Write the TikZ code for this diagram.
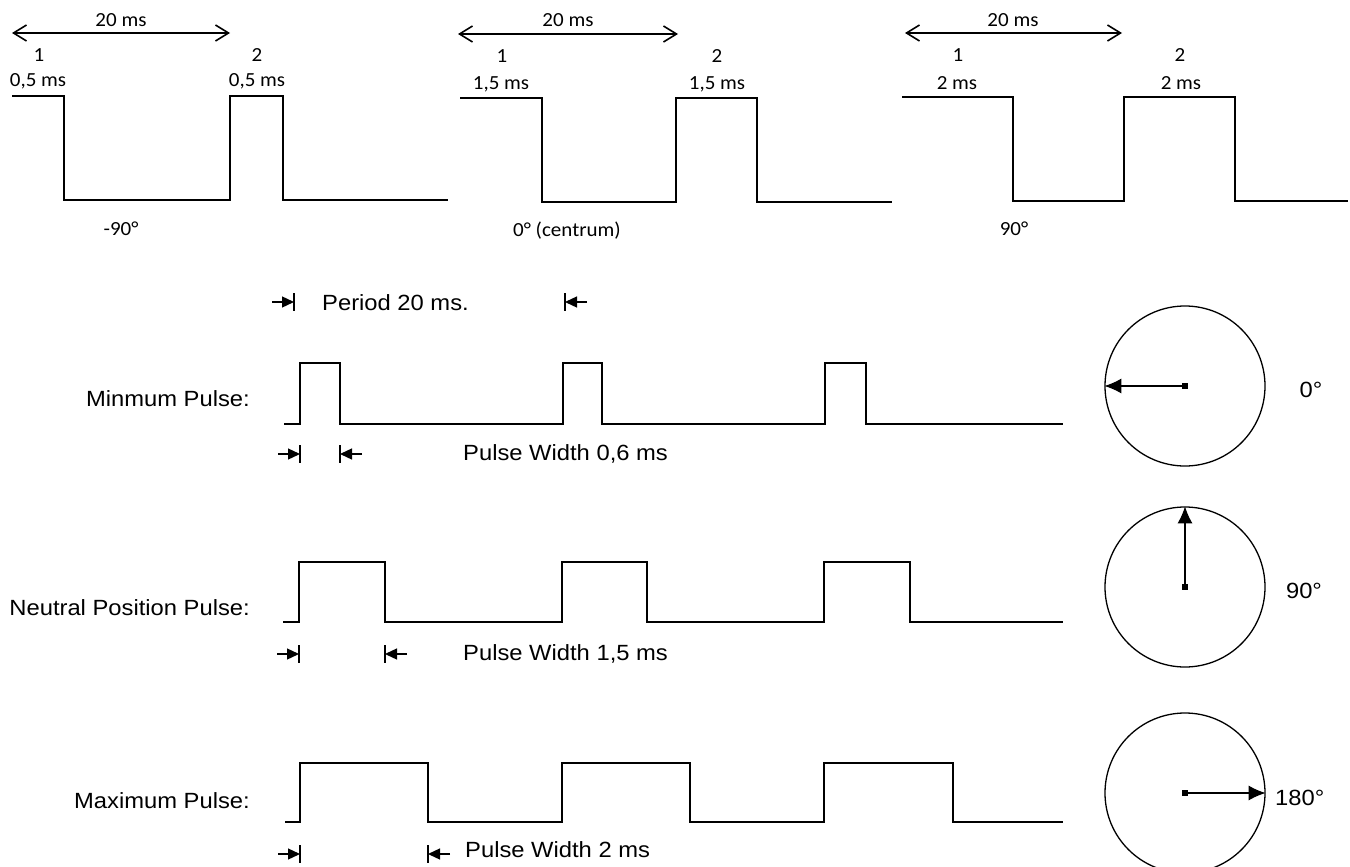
\documentclass[tikz,border=0pt]{standalone}
\usepackage{fontspec}
\setmainfont{Liberation Sans}[FakeStretch=1.08]
\newfontfamily\topfont{Carlito}[FakeStretch=1.05]
\usetikzlibrary{arrows.meta}
\tikzset{
  topwave/.style={line width=2.6pt, line join=miter},
  botwave/.style={line width=1.3pt, line join=miter},
  span/.style={line width=1.6pt, {Straight Barb[length=13pt,width=16pt]}-{Straight Barb[length=13pt,width=16pt]}},
  toptxt/.style={inner sep=0pt, anchor=base, font=\topfont\fontsize{20}{22}\selectfont},
  bottxt/.style={inner sep=0pt, font=\fontsize{22}{25}\selectfont},
  mk/.style={line width=1.3pt, -{Triangle[length=12pt,width=11pt]}},
  mkbar/.style={line width=1.3pt},
  dial/.style={circle, draw, line width=1.3pt, minimum size=160pt, inner sep=0pt},
  hub/.style={fill, rectangle, minimum size=6pt, inner sep=0pt},
  needle/.style={line width=1.3pt, -{Latex[length=17pt,width=15pt]}}
}
\begin{document}
\begin{tikzpicture}[x=1pt,y=-1pt]
\useasboundingbox (0,0) rectangle (1350,867);
% ---------- top row ----------
% left
\coordinate (tla) at (12,33); \coordinate (tlb) at (230,33);
\draw[span] (tla) -- (tlb);
\node[toptxt] (tl20) at (121,27) {20 ms};
\node[toptxt] (tl1) at (39,62) {1};
\node[toptxt] (tl1t) at (38,87) {0,5 ms};
\node[toptxt] (tl2) at (257,62) {2};
\node[toptxt] (tl2t) at (257,87) {0,5 ms};
\draw[topwave] (12,96) -| (64,200) -| (230,96) -| (283,200) -- (448,200);
\node[toptxt] (tlang) at (121,235) {-90°};
% middle
\coordinate (tma) at (458,34); \coordinate (tmb) at (678,34);
\draw[span] (tma) -- (tmb);
\node[toptxt] (tm20) at (568,27) {20 ms};
\node[toptxt] (tm1) at (502,63) {1};
\node[toptxt] (tm1t) at (501,89) {1,5 ms};
\node[toptxt] (tm2) at (717,63) {2};
\node[toptxt] (tm2t) at (717,89) {1,5 ms};
\draw[topwave] (460,98) -| (542,202) -| (676,98) -| (757,202) -- (892,202);
\node[toptxt] (tmang) at (567,236) {0° (centrum)};
% right
\coordinate (tra) at (905,33); \coordinate (trb) at (1122,33);
\draw[span] (tra) -- (trb);
\node[toptxt] (tr20) at (1013,27) {20 ms};
\node[toptxt] (tr1) at (958,62) {1};
\node[toptxt] (tr1t) at (957,89) {2 ms};
\node[toptxt] (tr2) at (1180,62) {2};
\node[toptxt] (tr2t) at (1181,89) {2 ms};
\draw[topwave] (902,97) -| (1013,201) -| (1124,97) -| (1235,201) -- (1348,201);
\node[toptxt] (trang) at (1014,235) {90°};
% ---------- bottom section ----------
% period marker
\draw[mk] (272,302) -- (294,302); \draw[mkbar] (294,293) -- (294,311);
\node[bottxt, anchor=base west] (period) at (322,310) {Period 20 ms.};
\draw[mk] (587,302) -- (565,302); \draw[mkbar] (565,293) -- (565,311);
% minimum
\node[bottxt, anchor=base east] (lmin) at (250,406) {Minmum Pulse:};
\draw[botwave] (284,424) -| (300,363) -| (340,424) -| (563,363) -| (602,424) -| (825,363) -| (866,424) -- (1063,424);
\draw[mk] (278,454) -- (300,454); \draw[mkbar] (300,445) -- (300,463);
\draw[mk] (362,454) -- (340,454); \draw[mkbar] (340,445) -- (340,463);
\node[bottxt, anchor=base west] (wmin) at (463,460) {Pulse Width 0,6 ms};
% neutral
\node[bottxt, anchor=base east] (lneu) at (250,615) {Neutral Position Pulse:};
\draw[botwave] (283,622) -| (299,562) -| (385,622) -| (562,562) -| (647,622) -| (824,562) -| (910,622) -- (1063,622);
\draw[mk] (277,654) -- (299,654); \draw[mkbar] (299,645) -- (299,663);
\draw[mk] (407,654) -- (385,654); \draw[mkbar] (385,645) -- (385,663);
\node[bottxt, anchor=base west] (wneu) at (463,660) {Pulse Width 1,5 ms};
% maximum
\node[bottxt, anchor=base east] (lmax) at (250,808) {Maximum Pulse:};
\draw[botwave] (285,822) -| (300,763) -| (428,822) -| (562,763) -| (690,822) -| (824,763) -| (953,822) -- (1063,822);
\draw[mk] (278,854) -- (300,854); \draw[mkbar] (300,845) -- (300,863);
\draw[mk] (450,854) -- (428,854); \draw[mkbar] (428,845) -- (428,863);
\node[bottxt, anchor=base west] (wmax) at (465,857) {Pulse Width 2 ms};
% dials
\node[dial] (d1) at (1185,386) {};
\node[hub] (h1) at (1185,386) {};
\draw[needle] (h1.center) -- (d1.west);
\node[bottxt, anchor=base] (a1) at (1311,397) {0°};
\node[dial] (d2) at (1185,587) {};
\node[hub] (h2) at (1185,587) {};
\draw[needle] (h2.center) -- (d2.north);
\node[bottxt, anchor=base] (a2) at (1304,598) {90°};
\node[dial] (d3) at (1185,793) {};
\node[hub] (h3) at (1185,793) {};
\draw[needle] (h3.center) -- (d3.east);
\node[bottxt, anchor=base west] (a3) at (1275,805) {180°};
\end{tikzpicture}
\end{document}
